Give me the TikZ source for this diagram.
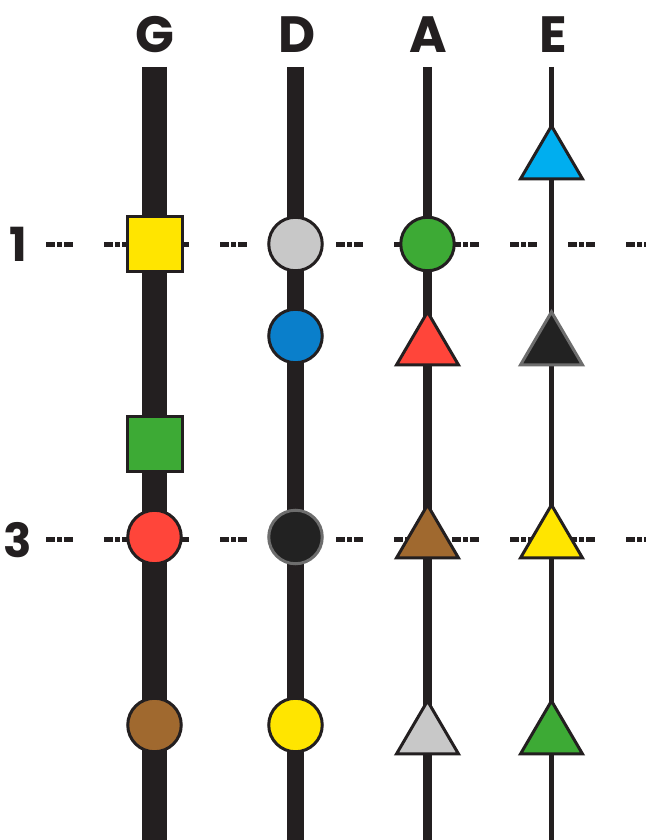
\documentclass[tikz,border=0pt]{standalone}
\usepackage{fontspec}
\setmainfont{Poppins}
\usetikzlibrary{shapes.geometric}
\definecolor{ink}{HTML}{231F20}
\definecolor{noteyellow}{HTML}{FFE500}
\definecolor{notegreen}{HTML}{3DAA35}
\definecolor{notegray}{HTML}{C8C8C8}
\definecolor{notered}{HTML}{FF453A}
\definecolor{noteblue}{HTML}{0A7FCB}
\definecolor{notecyan}{HTML}{00AEEF}
\definecolor{notebrown}{HTML}{A0692F}
\definecolor{notedark}{HTML}{222222}
\definecolor{edgegray}{HTML}{6D6D6D}
\tikzstyle{note}=[draw=ink, line width=3pt, inner sep=0pt]
\tikzstyle{dot}=[note, circle, minimum size=53.5pt]
\tikzstyle{box}=[note, rectangle, minimum size=55pt]
\tikzstyle{tri}=[note, isosceles triangle, isosceles triangle stretches, shape border rotate=90, minimum width=62pt, minimum height=53pt, anchor=apex]
\tikzstyle{dark}=[draw=edgegray, fill=notedark]
\tikzstyle{wire}=[draw=ink]
\tikzstyle{beat}=[draw=ink, line width=5pt, dash pattern=on 8.5pt off 2.5pt on 4.5pt off 2.5pt on 8.5pt off 31.5pt]

\begin{document}
\begin{tikzpicture}[x=1pt, y=-1pt, tuning/.style={font=\fontsize{51}{51}\selectfont\bfseries, text=ink, inner sep=0pt, anchor=base}, fret/.style={font=\fontsize{47}{47}\selectfont\bfseries, text=ink, inner sep=0pt, anchor=base}]
    \useasboundingbox (0,0) rectangle (646,840);

    % string names and fret numbers
    \node[tuning] (nameG) at (155,53)  {G};
    \node[tuning] (nameD) at (297,53)  {D};
    \node[tuning] (nameA) at (428,53)  {A};
    \node[tuning] (nameE) at (553,53)  {E};
    \node[fret]   (fret1) at (18,261)  {1};
    \node[fret]   (fret3) at (18,557)  {3};

    % beat lines
    \coordinate (row1) at (46,244.5);  \coordinate (row1end) at (646,244.5);
    \coordinate (row3) at (46,539);    \coordinate (row3end) at (646,539);
    \draw[beat] (row1) -- (row1end);
    \draw[beat] (row3) -- (row3end);

    % strings
    \coordinate (topG) at (154.5,67);  \coordinate (botG) at (154.5,840);
    \coordinate (topD) at (295.5,67);  \coordinate (botD) at (295.5,840);
    \coordinate (topA) at (427.5,67);  \coordinate (botA) at (427.5,840);
    \coordinate (topE) at (551.5,67);  \coordinate (botE) at (551.5,840);
    \draw[wire, line width=25pt]  (topG) -- (botG);
    \draw[wire, line width=17pt]  (topD) -- (botD);
    \draw[wire, line width=9.5pt] (topA) -- (botA);
    \draw[wire, line width=5.5pt] (topE) -- (botE);

    % notes
    \node[box, fill=noteyellow] (g1) at (154.5,244) {};
    \node[box, fill=notegreen]  (g2) at (154.5,444) {};
    \node[dot, fill=notered]    (g3) at (154.5,537) {};
    \node[dot, fill=notebrown]  (g4) at (154.5,725) {};

    \node[dot, fill=notegray]   (d1) at (295.5,244) {};
    \node[dot, fill=noteblue]   (d2) at (295.5,336) {};
    \node[dot, dark]            (d3) at (295.5,537) {};
    \node[dot, fill=noteyellow] (d4) at (295.5,725) {};

    \node[dot, fill=notegreen]  (a1) at (427.5,244) {};
    \node[tri, fill=notered]    (a2) at (427.5,308) {};
    \node[tri, fill=notebrown]  (a3) at (427.5,501) {};
    \node[tri, fill=notegray]   (a4) at (427.5,697) {};

    \node[tri, fill=notecyan]   (e0) at (551.5,122) {};
    \node[tri, dark]            (e2) at (551.5,308) {};
    \node[tri, fill=noteyellow] (e3) at (551.5,501) {};
    \node[tri, fill=notegreen]  (e4) at (551.5,697) {};
\end{tikzpicture}
\end{document}
